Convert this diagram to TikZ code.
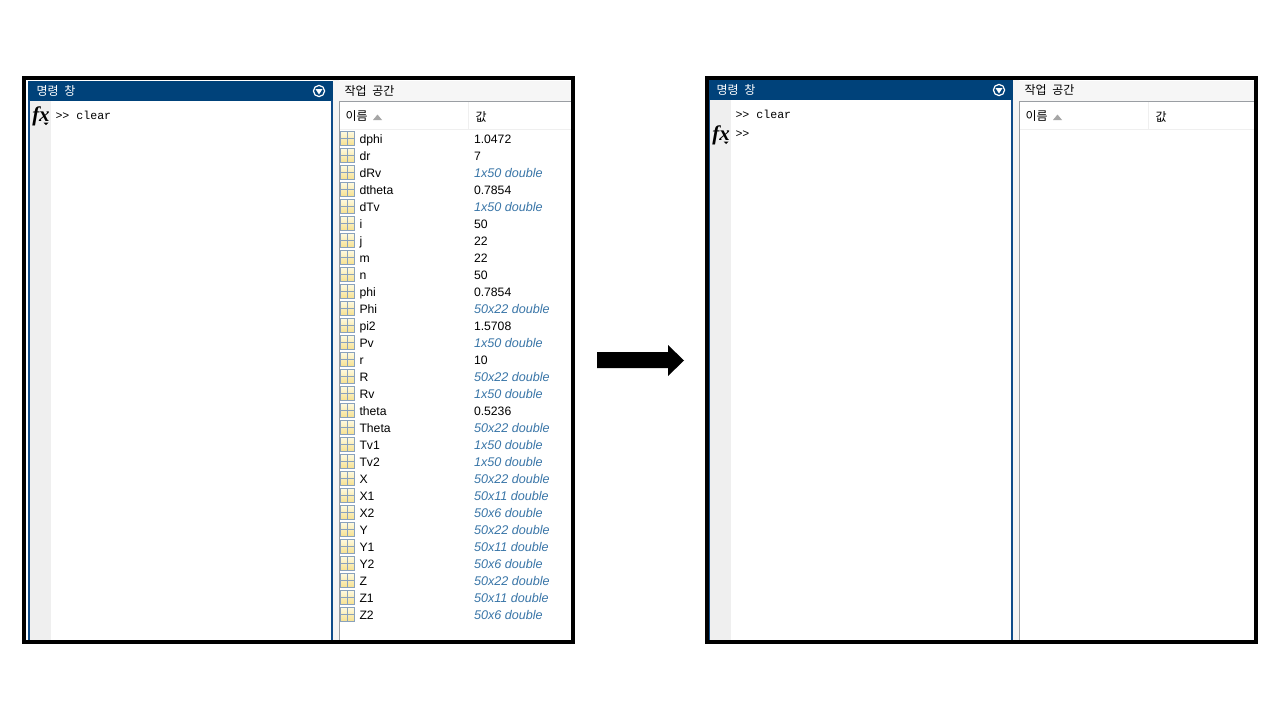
\documentclass[tikz,border=0pt]{standalone}
\usepackage{fontspec}
\setmainfont{Liberation Sans}
\newfontfamily\korfont{Noto Sans CJK KR}
\newfontfamily\cmdfont{Liberation Mono}
\newfontfamily\fxfont{Liberation Serif}
\definecolor{barra}{HTML}{00427A}
\definecolor{bordo}{HTML}{0F4C8A}
\definecolor{gronda}{HTML}{EFEFEF}
\definecolor{striscia}{HTML}{F6F6F6}
\definecolor{griglia}{HTML}{9A9EA3}
\definecolor{tipo}{HTML}{3A76A8}
\definecolor{icona}{HTML}{8AA2BC}
\definecolor{gialloA}{HTML}{FFFBE2}
\definecolor{gialloB}{HTML}{F6E08E}
\begin{document}
\begin{tikzpicture}[x=1pt, y=-1pt, line width=1pt,
	kor/.style   = {inner sep=0pt, anchor=west, font=\korfont\fontsize{12}{13}\selectfont},
	cmd/.style   = {inner sep=0pt, anchor=west, font=\cmdfont\fontsize{11.6}{13}\selectfont},
	fxtxt/.style = {inner sep=0pt, font=\fxfont\bfseries\itshape\fontsize{21}{22}\selectfont},
	val/.style   = {inner sep=0pt, anchor=base west, font=\fontsize{12.2}{14}\selectfont},
	mat/.style   = {val, text=tipo, font=\itshape\fontsize{12.6}{14}\selectfont},
	cornice/.style = {draw=black, line width=4pt},
	]
	\useasboundingbox (0,0) rectangle (1280,720);
	
	%% -- Parametri geometrici --
	\def\yTop{80}    \def\yBar{100}   \def\yBot{640}
	\def\yHead{129}  \def\passo{17}
	
	%% -- Due finestre: scostamento orizzontale e verticale, suffisso nomi --
	\foreach \dx/\dy/\qq/\xEnd in {0/0/a/571, 680/-1/b/1254}{
		%% fondo e gronda
		\fill[white](\dx+29,\yBar)rectangle(\dx+332,\yBot);
		\fill[gronda](\dx+30,\yBar)rectangle(\dx+51,\yBot);
		%% barra del titolo
		\fill[barra](\dx+28,\yTop+1+\dy)rectangle(\dx+333,\yBar+1+\dy);
		\draw[bordo,line width=2pt](\dx+29,\yBar)--(\dx+29,\yBot);
		\draw[bordo,line width=2pt](\dx+332,\yBar)--(\dx+332,\yBot);
		\node[kor,text=white](titolo\qq)at(\dx+36,91+\dy){명령\hspace{3pt} 창};
		%% pulsante del menu
		\draw[white,line width=1.2pt](\dx+319,91+\dy)circle(5.6);
		\fill[white](\dx+315.5,89+\dy)--(\dx+322.5,89+\dy)--(\dx+319,94.5+\dy)--cycle;
		%% spazio di lavoro
		\fill[gronda!60](\dx+333,\yTop)rectangle(\dx+339,\yBot);
		\fill[striscia](\dx+338,\yTop+1)rectangle(\xEnd,\yBar+1);
		\fill[white](\dx+339,\yBar+1)rectangle(\xEnd,\yBot);
		\draw[griglia](\dx+339.5,\yBar+1)--(\dx+339.5,\yBot);
		\draw[griglia](\dx+339,\yBar+1)--(\xEnd,\yBar+1);
		\draw[gronda](\dx+340,\yHead+.5)--(\xEnd,\yHead+.5);
		\draw[gronda](\dx+468.5,\yBar+2)--(\dx+468.5,\yHead);
		\node[kor](lavoro\qq)at(\dx+344,91+\dy){작업\hspace{3pt} 공간};
		\node[kor](nomi\qq)at(\dx+345,116.5){이름};
		\node[kor](valori\qq)at(\dx+475,116.5){값};
		\fill[gray!70](\dx+373,120)--(\dx+382,120)--(\dx+377.5,114.5)--cycle;
	}
	
	%% -- Comandi a sinistra --
	\node[cmd](promptA)at(55,115.5){>> clear};
	\node[fxtxt](fxA)at(41,116){fx};
	\fill[black](43.5,122.5)--(48.5,122.5)--(46,125)--cycle;
	
	%% -- Comandi a destra --
	\node[cmd](promptB)at(735,114.5){>> clear};
	\node[cmd](promptC)at(735,134){>>};
	\node[fxtxt](fxB)at(721,135){fx};
	\fill[black](723.5,141.5)--(728.5,141.5)--(726,144)--cycle;
	
	%% -- Variabili --
	\foreach[count=\k from 0] \nome/\valore/\stile in {
		dphi/1.0472/val, dr/7/val, dRv/1x50 double/mat, dtheta/0.7854/val,
		dTv/1x50 double/mat, i/50/val, j/22/val, m/22/val, n/50/val,
		phi/0.7854/val, Phi/50x22 double/mat, pi2/1.5708/val, Pv/1x50 double/mat,
		r/10/val, R/50x22 double/mat, Rv/1x50 double/mat, theta/0.5236/val,
		Theta/50x22 double/mat, Tv1/1x50 double/mat, Tv2/1x50 double/mat,
		X/50x22 double/mat, X1/50x11 double/mat, X2/50x6 double/mat,
		Y/50x22 double/mat, Y1/50x11 double/mat, Y2/50x6 double/mat,
		Z/50x22 double/mat, Z1/50x11 double/mat, Z2/50x6 double/mat}{
		\pgfmathsetmacro{\yy}{139+\k*\passo}
		\draw[draw=icona,top color=gialloA,bottom color=gialloB](340.5,\yy-8)rectangle(354.5,\yy+6.5);
		\draw[icona](340.5,\yy-.75)--(354.5,\yy-.75);
		\draw[icona](347.5,\yy-8)--(347.5,\yy+6.5);
		\node[val](nome\k)at(359,\yy+4.6){\nome};
		\node[\stile](valore\k)at(473.5,\yy+4.6){\valore};
	}
	
	%% -- Cornici --
	\draw[cornice](24,78)rectangle(573,642);
	\draw[cornice](707,78)rectangle(1256,642);
	
	%% -- Freccia --
	\fill[black](597,352)--(668,352)--(668,345)--(684,360.5)--(668,376)--(668,368)--(597,368)--cycle;
	
\end{tikzpicture}
\end{document}
